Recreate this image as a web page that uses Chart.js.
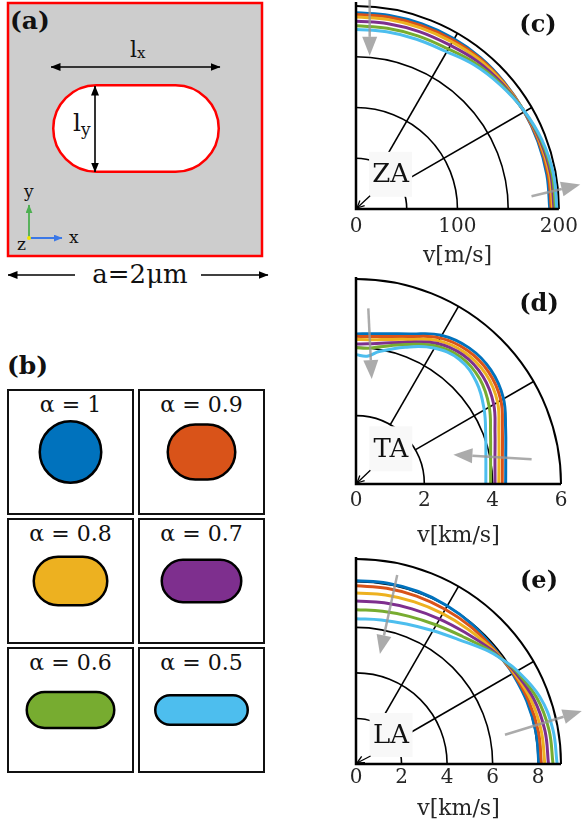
<!DOCTYPE html>
<html>
<head>
<meta charset="utf-8">
<script src="https://cdn.jsdelivr.net/npm/chart.js@4.4.1/dist/chart.umd.min.js"></script>
<style>
  html, body { margin: 0; padding: 0; background: #fff; }
  #page { position: relative; width: 584px; height: 827px; overflow: hidden; }
  #sketch { position: absolute; left: 0; top: 0; }
  canvas { position: absolute; }
</style>
</head>
<body>
<div id="page">
  <svg id="sketch" width="584" height="827" xmlns="http://www.w3.org/2000/svg" font-family="DejaVu Serif">
    <defs>
      <marker id="ahK" viewBox="0 0 10 8" refX="9.5" refY="4" markerWidth="10" markerHeight="8" markerUnits="userSpaceOnUse" orient="auto-start-reverse">
        <path d="M0,0 L10,4 L0,8 z" fill="#000"/>
      </marker>
      <marker id="ahG" viewBox="0 0 10 8" refX="9.5" refY="4" markerWidth="9" markerHeight="7" markerUnits="userSpaceOnUse" orient="auto">
        <path d="M0,0 L10,4 L0,8 z" fill="#4caf50"/>
      </marker>
      <marker id="ahB" viewBox="0 0 10 8" refX="9.5" refY="4" markerWidth="9" markerHeight="7" markerUnits="userSpaceOnUse" orient="auto">
        <path d="M0,0 L10,4 L0,8 z" fill="#3b78e7"/>
      </marker>
    </defs>

    <!-- (a) unit cell with the stadium-shaped hole -->
    <rect x="8" y="3" width="254" height="253" fill="#cdcdcd" stroke="#ff0000" stroke-width="2.5"/>
    <rect x="53.25" y="85.25" width="165.5" height="86.5" rx="43.25" fill="#fff" stroke="#ff0000" stroke-width="2.5"/>
    <line x1="51" y1="67" x2="220" y2="67" stroke="#000" stroke-width="1.6" marker-start="url(#ahK)" marker-end="url(#ahK)"/>
    <line x1="95" y1="86" x2="95" y2="172" stroke="#000" stroke-width="1.6" marker-start="url(#ahK)" marker-end="url(#ahK)"/>
    <text x="130" y="57" font-size="22" fill="#111">l<tspan font-size="15" dy="1">x</tspan></text>
    <text x="73" y="131" font-size="25" fill="#111">l<tspan font-size="17" dy="4">y</tspan></text>
    <line x1="29" y1="238" x2="29" y2="205" stroke="#4caf50" stroke-width="1.8" marker-end="url(#ahG)"/>
    <line x1="29" y1="238" x2="62" y2="238" stroke="#3b78e7" stroke-width="1.8" marker-end="url(#ahB)"/>
    <circle cx="29" cy="238" r="2" fill="#f2e600"/>
    <text x="24" y="197" font-size="17" fill="#111">y</text>
    <text x="69" y="243" font-size="17" fill="#111">x</text>
    <text x="17" y="250" font-size="17" fill="#111">z</text>
    <text x="10" y="29" font-size="25" font-weight="bold" fill="#111">(a)</text>
    <line x1="75" y1="275" x2="8" y2="275" stroke="#000" stroke-width="1.6" marker-end="url(#ahK)"/>
    <line x1="201" y1="275" x2="268" y2="275" stroke="#000" stroke-width="1.6" marker-end="url(#ahK)"/>
    <text x="140" y="283" font-size="26" text-anchor="middle" fill="#111">a=2μm</text>

    <!-- (b) hole shapes, filled in from the script below -->
    <text x="7" y="374" font-size="25" font-weight="bold" fill="#111">(b)</text>
    <g id="shapes"></g>
  </svg>

  <canvas id="za" width="248" height="275" style="left:336px; top:-1px;"></canvas>
  <canvas id="ta" width="248" height="275" style="left:336px; top:274px;"></canvas>
  <canvas id="la" width="248" height="273" style="left:336px; top:554px;"></canvas>
</div>

<script>
// ---- values ---------------------------------------------------------------
const alphas = [1, 0.9, 0.8, 0.7, 0.6, 0.5];
const seriesColors = ['#0072BD', '#D95319', '#EDB120', '#7E2F8E', '#77AC30', '#4DBEEE'];

// ZA branch: group velocity (m/s) against propagation angle (deg), one row per alpha
const zaAngles = [0, 10, 20, 30, 40, 50, 60, 70, 80, 90];
const zaSpeed = [
  [191.0, 191.0, 190.8, 190.6, 190.6, 190.8, 190.6, 190.2, 189.8, 189.5],
  [192.4, 192.3, 191.6, 190.6, 190.1, 189.9, 189.1, 188.6, 188.2, 187.9],
  [193.8, 193.6, 192.5, 190.7, 189.4, 188.5, 187.0, 186.3, 185.8, 185.5],
  [195.2, 194.9, 193.3, 190.7, 188.3, 186.2, 183.3, 182.4, 181.8, 181.5],
  [196.6, 196.2, 194.2, 190.8, 187.0, 183.5, 179.2, 178.0, 177.3, 177.0],
  [198.0, 197.5, 195.0, 190.8, 186.0, 181.5, 176.0, 174.5, 173.8, 173.5]
];
const zaTicks = [0, 100, 200];

// TA branch (km/s)
const taAngles = [0, 10, 20, 30, 40, 50, 60, 70, 80, 85, 90];
const taSpeed = [
  [4.38, 4.45, 4.66, 4.98, 5.15, 5.15, 4.98, 4.63, 4.42, 4.37, 4.35],
  [4.28, 4.35, 4.56, 4.89, 5.06, 5.06, 4.89, 4.55, 4.34, 4.29, 4.28],
  [4.18, 4.25, 4.45, 4.78, 4.96, 4.97, 4.80, 4.46, 4.25, 4.20, 4.19],
  [4.07, 4.13, 4.33, 4.65, 4.85, 4.88, 4.71, 4.37, 4.14, 4.08, 4.06],
  [3.94, 4.00, 4.19, 4.50, 4.73, 4.79, 4.63, 4.30, 4.04, 3.95, 3.95],
  [3.80, 3.86, 4.04, 4.33, 4.60, 4.71, 4.55, 4.22, 3.90, 3.72, 3.75]
];
const taTicks = [0, 2, 4, 6];

// LA branch (km/s)
const laAngles = [0, 10, 20, 30, 35, 40, 50, 60, 70, 80, 90];
const laSpeed = [
  [8.03, 8.02, 7.98, 7.92, 7.88, 7.88, 7.93, 7.96, 7.98, 7.98, 7.97],
  [8.14, 8.13, 8.06, 7.95, 7.88, 7.84, 7.81, 7.78, 7.77, 7.76, 7.75],
  [8.29, 8.26, 8.17, 7.99, 7.88, 7.80, 7.65, 7.56, 7.50, 7.46, 7.44],
  [8.45, 8.42, 8.30, 8.04, 7.88, 7.74, 7.46, 7.29, 7.18, 7.12, 7.09],
  [8.65, 8.60, 8.44, 8.10, 7.88, 7.68, 7.25, 6.99, 6.83, 6.74, 6.71],
  [8.83, 8.77, 8.58, 8.15, 7.88, 7.62, 7.05, 6.70, 6.48, 6.36, 6.32]
];
const laTicks = [0, 2, 4, 6, 8];

// ---- (b): one framed hole per alpha ----------------------------------------
const holeWidths = [64, 70, 76, 82, 90, 95];   // drawn outer width of each hole, px
(function drawShapes() {
  const NS = 'http://www.w3.org/2000/svg';
  const g = document.getElementById('shapes');
  const colX = [8, 139], rowY = [390, 519, 648], boxW = 125, boxH = 124, diam = 64, sw = 2.5;
  alphas.forEach((a, i) => {
    const bx = colX[i % 2], by = rowY[Math.floor(i / 2)];
    const cx = bx + boxW / 2, cy = by + 62;
    const box = document.createElementNS(NS, 'rect');
    box.setAttribute('x', bx); box.setAttribute('y', by);
    box.setAttribute('width', boxW); box.setAttribute('height', boxH);
    box.setAttribute('fill', '#fff'); box.setAttribute('stroke', '#111'); box.setAttribute('stroke-width', 2);
    g.appendChild(box);
    const w = holeWidths[i] - sw, h = a * diam - sw;
    const hole = document.createElementNS(NS, 'rect');
    hole.setAttribute('x', cx - w / 2); hole.setAttribute('y', cy - h / 2);
    hole.setAttribute('width', w); hole.setAttribute('height', h);
    hole.setAttribute('rx', h / 2); hole.setAttribute('ry', h / 2);
    hole.setAttribute('fill', seriesColors[i]); hole.setAttribute('stroke', '#000');
    hole.setAttribute('stroke-width', sw);
    g.appendChild(hole);
    const t = document.createElementNS(NS, 'text');
    t.setAttribute('x', cx); t.setAttribute('y', by + 22);
    t.setAttribute('text-anchor', 'middle'); t.setAttribute('font-size', 22);
    t.setAttribute('fill', '#111');
    t.textContent = 'α = ' + a;
    g.appendChild(t);
  });
})();

// ---- (c)-(e): quarter polar plots --------------------------------------------
const deg = Math.PI / 180;

function toXY(angles, speeds) {
  return angles.map((a, k) => ({ x: speeds[k] * Math.cos(a * deg), y: speeds[k] * Math.sin(a * deg) }));
}

function grayArrow(ctx, x1, y1, x2, y2) {
  const ang = Math.atan2(y2 - y1, x2 - x1), L = 19, W = 7.5;
  const bx = x2 - L * Math.cos(ang), by = y2 - L * Math.sin(ang);
  ctx.save();
  ctx.strokeStyle = 'rgba(150,150,150,0.8)';
  ctx.fillStyle = 'rgba(150,150,150,0.8)';
  ctx.lineWidth = 2.5;
  ctx.beginPath(); ctx.moveTo(x1, y1); ctx.lineTo(bx, by); ctx.stroke();
  ctx.beginPath();
  ctx.moveTo(x2, y2);
  ctx.lineTo(bx - W * Math.sin(ang), by + W * Math.cos(ang));
  ctx.lineTo(bx + W * Math.sin(ang), by - W * Math.cos(ang));
  ctx.closePath(); ctx.fill();
  ctx.restore();
}

function makeDecor(cfg) {
  return {
    id: 'polarDecor',
    beforeDatasetsDraw(chart) {
      const { ctx } = chart, sx = chart.scales.x, sy = chart.scales.y;
      const ox = sx.getPixelForValue(0), oy = sy.getPixelForValue(0);
      const R = v => sx.getPixelForValue(v) - ox;
      ctx.save();
      ctx.strokeStyle = '#000';
      ctx.lineWidth = 1.6;
      cfg.rings.forEach(r => {
        ctx.beginPath(); ctx.arc(ox, oy, R(r), -Math.PI / 2, 0); ctx.stroke();
      });
      [30, 60].forEach(a => {
        const c = Math.cos(a * deg), s = Math.sin(a * deg);
        ctx.beginPath();
        ctx.moveTo(ox + R(cfg.spokeFrom) * c, oy - R(cfg.spokeFrom) * s);
        ctx.lineTo(ox + R(cfg.rMax) * c, oy - R(cfg.rMax) * s);
        ctx.stroke();
      });
      ctx.lineWidth = 2;
      ctx.beginPath(); ctx.arc(ox, oy, R(cfg.rMax), -Math.PI / 2, 0); ctx.stroke();
      ctx.restore();
    },
    afterDatasetsDraw(chart) {
      const { ctx } = chart, sx = chart.scales.x, sy = chart.scales.y;
      const ox = sx.getPixelForValue(0), oy = sy.getPixelForValue(0);
      const P = (x, y) => [sx.getPixelForValue(x), sy.getPixelForValue(y)];
      ctx.save();
      // axis spines
      ctx.strokeStyle = '#000'; ctx.lineWidth = 2.5;
      ctx.beginPath();
      ctx.moveTo(ox, sy.getPixelForValue(cfg.rMax));
      ctx.lineTo(ox, oy);
      ctx.lineTo(sx.getPixelForValue(cfg.rMax), oy);
      ctx.stroke();
      // trend arrows (decreasing alpha)
      cfg.arrows.forEach(a => {
        const [x1, y1] = P(a[0], a[1]), [x2, y2] = P(a[2], a[3]);
        grayArrow(ctx, x1, y1, x2, y2);
      });
      // mode label box with pointer to the origin
      const [bcx, bcy] = P(cfg.box[0], cfg.box[1]);
      const bw = 43, bh = cfg.boxH;
      ctx.fillStyle = '#f8f8f8';
      ctx.fillRect(bcx - bw / 2, bcy - bh / 2, bw, bh);
      ctx.strokeStyle = '#000'; ctx.lineWidth = 1.3;
      const px0 = bcx - bw / 2 + 1, py0 = bcy + bh / 2 - 1;
      ctx.beginPath(); ctx.moveTo(px0, py0); ctx.lineTo(ox + 1, oy - 1); ctx.stroke();
      const ang = Math.atan2(py0 - oy, px0 - ox);
      [-0.45, 0.45].forEach(d => {
        ctx.beginPath(); ctx.moveTo(ox + 1, oy - 1);
        ctx.lineTo(ox + 1 + 8 * Math.cos(ang + d), oy - 1 + 8 * Math.sin(ang + d));
        ctx.stroke();
      });
      ctx.fillStyle = '#111';
      ctx.font = '26px "DejaVu Serif"';
      ctx.textAlign = 'center'; ctx.textBaseline = 'middle';
      ctx.fillText(cfg.mode, bcx, bcy + 1);
      // panel letter
      ctx.font = 'bold 24px "DejaVu Serif"';
      ctx.fillText(cfg.letter, cfg.letterPos[0], cfg.letterPos[1]);
      ctx.restore();
    }
  };
}

function polarChart(cfg) {
  const datasets = cfg.speeds.map((row, i) => ({
    label: 'α = ' + alphas[i],
    data: toXY(cfg.angles, row),
    showLine: true,
    borderColor: seriesColors[i],
    backgroundColor: seriesColors[i],
    borderWidth: 3,
    pointRadius: 0,
    tension: 0.4,
    fill: false,
    clip: false,
    order: cfg.speeds.length - 1 - i
  }));
  return new Chart(document.getElementById(cfg.id), {
    type: 'scatter',
    data: { datasets },
    options: {
      responsive: false,
      animation: false,
      events: [],
      layout: { padding: { left: 20, right: 23, top: 3, bottom: 0 } },
      plugins: { legend: { display: false }, tooltip: { enabled: false } },
      scales: {
        x: {
          type: 'linear', min: 0, max: cfg.rMax, position: 'bottom',
          afterBuildTicks: s => { s.ticks = cfg.ticks.map(v => ({ value: v })); },
          afterFit: s => { s.height = cfg.axisH; },
          grid: { display: false, drawTicks: false },
          border: { display: false },
          ticks: {
            autoSkip: false, maxRotation: 0, padding: cfg.tickPad,
            color: '#262626', font: { family: 'DejaVu Serif', size: 20 },
            callback: v => String(v)
          },
          title: {
            display: true, text: cfg.title, color: '#262626',
            font: { family: 'DejaVu Serif', size: 22 },
            padding: { top: 0, bottom: cfg.titlePad }
          }
        },
        y: { type: 'linear', min: 0, max: cfg.rMax, display: false }
      }
    },
    plugins: [makeDecor(cfg)]
  });
}

polarChart({
  id: 'za', angles: zaAngles, speeds: zaSpeed, ticks: zaTicks, rMax: 200,
  rings: [50, 100, 150], spokeFrom: 50, title: 'v[m/s]', mode: 'ZA', letter: '(c)',
  axisH: 65, tickPad: 6, titlePad: 5, box: [34.1, 33.5], boxH: 45, letterPos: [202, 27],
  arrows: [[13.5, 206, 13.5, 148], [173, 12.3, 221, 23.7]]
});
polarChart({
  id: 'ta', angles: taAngles, speeds: taSpeed, ticks: taTicks, rMax: 6,
  rings: [2, 4], spokeFrom: 2, title: 'v[km/s]', mode: 'TA', letter: '(d)',
  axisH: 65, tickPad: 5, titlePad: 0, box: [1.02, 1.02], boxH: 45, letterPos: [203, 31],
  arrows: [[0.36, 5.09, 0.46, 3.04], [5.14, 0.72, 2.85, 0.85]]
});
polarChart({
  id: 'la', angles: laAngles, speeds: laSpeed, ticks: laTicks, rMax: 9,
  rings: [2, 4, 6, 8], spokeFrom: 2, title: 'v[km/s]', mode: 'LA', letter: '(e)',
  axisH: 63, tickPad: 2, titlePad: 5, box: [1.54, 1.26], boxH: 44, letterPos: [203, 28],
  arrows: [[1.81, 8.22, 1.05, 4.78], [6.54, 1.27, 9.91, 2.30]]
});
</script>
</body>
</html>
